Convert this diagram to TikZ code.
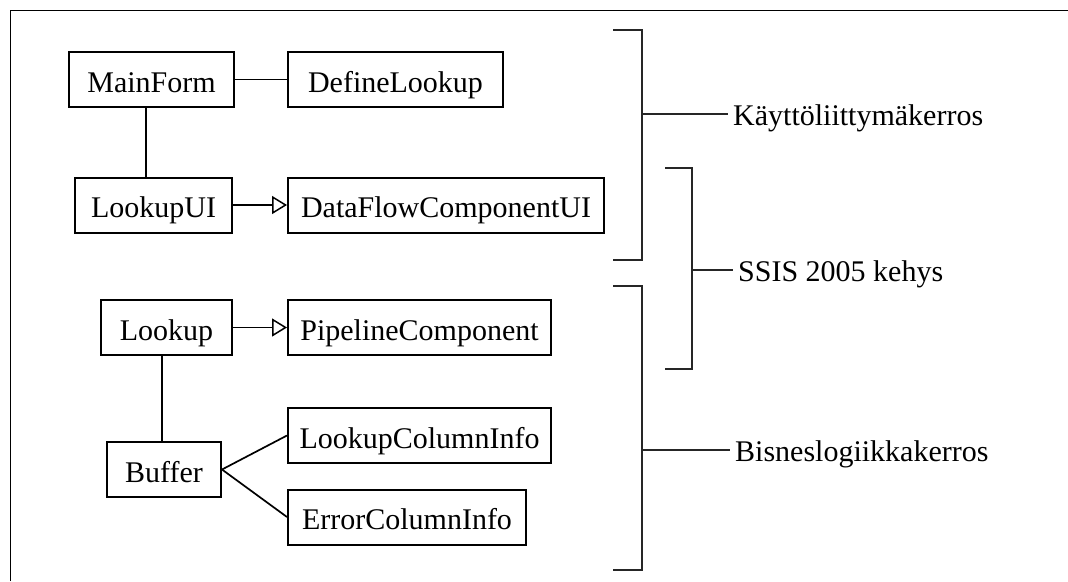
\documentclass[tikz,border=0pt]{standalone}
\usepackage{fontspec}
\setmainfont{Liberation Serif}
\usetikzlibrary{arrows.meta}
\begin{document}
\begin{tikzpicture}[x=1pt,y=-1pt,
  cls/.style={draw, line width=2pt, inner sep=0pt, minimum height=55pt, text height=25pt, text depth=0pt, font=\fontsize{30}{34}\selectfont},
  lnk/.style={line width=1.7pt},
  inh/.style={line width=1.7pt, -{Triangle[open, length=15pt, width=18pt, line width=1.5pt]}},
  brk/.style={line width=2pt, draw=black!85},
  lbl/.style={anchor=west, inner xsep=5pt, inner ysep=0pt, text height=22pt, text depth=0pt, font=\fontsize{30}{34}\selectfont}]
\useasboundingbox (0,0) rectangle (1068,581);
\draw[line width=1.8pt] (10.5,581) -- (10.5,10.5) -- (1068,10.5);
% class boxes
\node[cls, minimum width=165pt] (MainForm) at (151.5,79.5) {MainForm};
\node[cls, minimum width=215pt] (DefineLookup) at (395.5,79.5) {DefineLookup};
\node[cls, minimum width=157pt] (LookupUI) at (153.5,205) {LookupUI};
\node[cls, minimum width=316pt] (DFCUI) at (446,205) {DataFlowComponentUI};
\node[cls, minimum width=131pt] (Lookup) at (166.5,327.5) {Lookup};
\node[cls, minimum width=263pt] (Pipeline) at (419.5,327.5) {PipelineComponent};
\node[cls, minimum width=114pt] (Buffer) at (164,469.5) {Buffer};
\node[cls, minimum width=263pt] (LCI) at (419.5,435.5) {LookupColumnInfo};
\node[cls, minimum width=238pt] (ECI) at (407,517) {ErrorColumnInfo};
% connectors
\coordinate (v1) at (146,0);
\coordinate (v2) at (162,0);
\draw[lnk] (MainForm) -- (DefineLookup);
\draw[lnk] (MainForm.south -| v1) -- (LookupUI.north -| v1);
\draw[inh] (LookupUI) -- (DFCUI);
\draw[inh] (Lookup) -- (Pipeline);
\draw[lnk] (Lookup.south -| v2) -- (Buffer.north -| v2);
\draw[lnk] (Buffer.east) -- (LCI.west);
\draw[lnk] (Buffer.east) -- (ECI.west);
% brackets
\coordinate (b1) at (642,114);
\coordinate (b2) at (692,270);
\coordinate (b3) at (642,450);
\draw[brk] (613,29.5) -- (642,29.5) -- (642,260) -- (613,260);
\draw[brk] (665,167.5) -- (692,167.5) -- (692,369) -- (665,369);
\draw[brk] (613,286) -- (642,286) -- (642,570) -- (613,570);
\node[lbl] (L1) at (728,114) {Käyttöliittymäkerros};
\node[lbl] (L2) at (733,270) {SSIS 2005 kehys};
\node[lbl] (L3) at (730,450) {Bisneslogiikkakerros};
\draw[brk] (b1) -- (L1.west);
\draw[brk] (b2) -- (L2.west);
\draw[brk] (b3) -- (L3.west);
\end{tikzpicture}
\end{document}
